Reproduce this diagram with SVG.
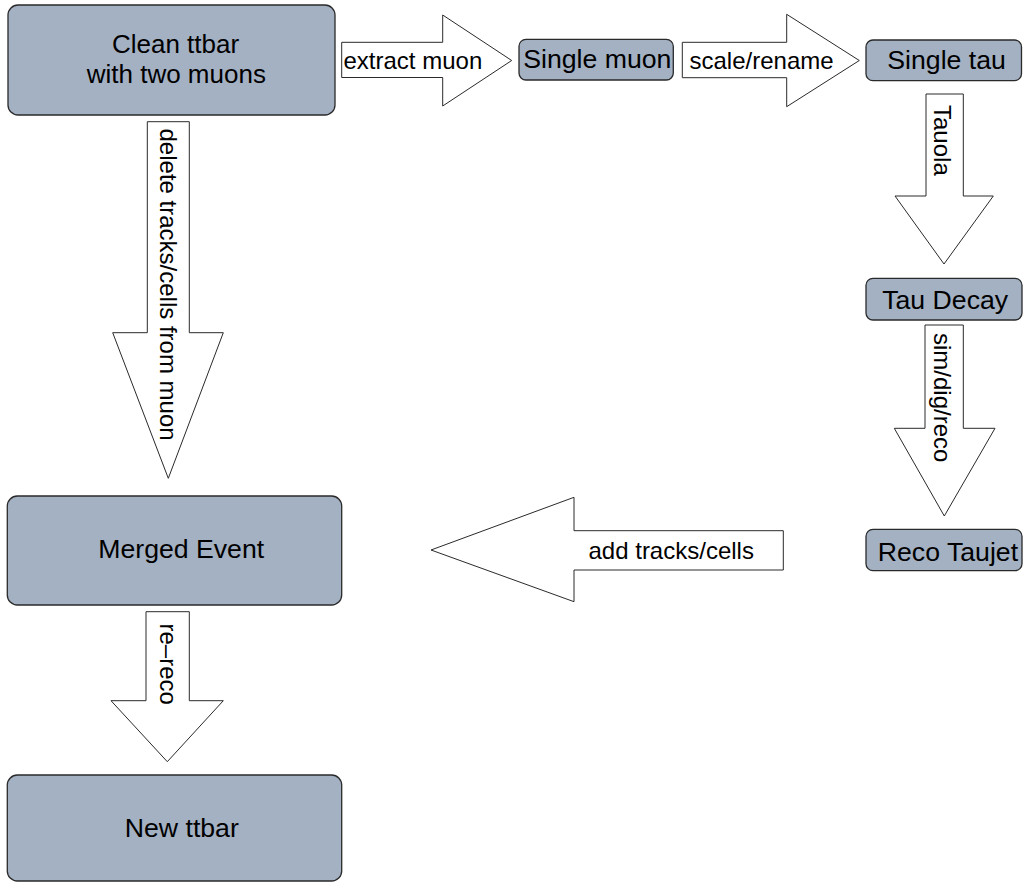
<svg xmlns="http://www.w3.org/2000/svg" width="1023" height="882" viewBox="0 0 1023 882">
  <style>
    .node { fill: #a3b1c3; stroke: #2a2a2a; stroke-width: 1.3; }
    .arrow { fill: #ffffff; stroke: #2a2a2a; stroke-width: 1; stroke-linejoin: miter; }
    .nlabel { font-family: "Liberation Sans", Arial, sans-serif; font-size: 26.67px; fill: #000; text-anchor: middle; }
    .alabel { font-family: "Liberation Sans", Arial, sans-serif; font-size: 24px; fill: #000; }
  </style>
  <rect width="1023" height="882" fill="#ffffff"/>

  <!-- block arrows between stages -->
  <g id="connectors">
    <g id="arrow-extract">
      <polygon class="arrow" points="341.7,42.3 442.7,42.3 442.7,15 511.7,60.5 442.7,106 442.7,77.5 341.7,77.5"/>
      <text class="alabel" x="343.5" y="68.5">extract muon</text>
    </g>
    <g id="arrow-scale">
      <polygon class="arrow" points="682.3,42.3 786.7,42.3 786.7,14.3 859.3,60.5 786.7,106.7 786.7,77.7 682.3,77.7"/>
      <text class="alabel" x="689.5" y="68.5">scale/rename</text>
    </g>
    <g id="arrow-tauola">
      <polygon class="arrow" points="926,94 963.3,94 963.3,196 993.3,196 944,264 895,196 926,196"/>
      <text class="alabel" transform="translate(933.5,105) rotate(90)">Tauola</text>
    </g>
    <g id="arrow-simdigreco">
      <polygon class="arrow" points="925,325 963.3,325 963.3,428.3 995,428.3 944.3,516 894.3,428.3 925,428.3"/>
      <text class="alabel" transform="translate(933.5,333) rotate(90)">sim/dig/reco</text>
    </g>
    <g id="arrow-add">
      <polygon class="arrow" points="783.3,530.7 574,530.7 574,497.3 431,550 574,601.7 574,570 783.3,570"/>
      <text class="alabel" x="588.5" y="558.5">add tracks/cells</text>
    </g>
    <g id="arrow-delete">
      <polygon class="arrow" points="147.3,121.7 189.3,121.7 189.3,332.7 223.3,332.7 168.3,478.3 112.7,332.7 147.3,332.7"/>
      <text class="alabel" transform="translate(159.5,128.5) rotate(90)">delete tracks/cells from muon</text>
    </g>
    <g id="arrow-rereco">
      <polygon class="arrow" points="146,611.7 189.3,611.7 189.3,700.7 223.3,700.7 167.3,761.7 111,700.7 146,700.7"/>
      <text class="alabel" transform="translate(159.5,623.5) rotate(90)">re–reco</text>
    </g>
  </g>

  <!-- stage boxes -->
  <g id="clean-ttbar">
    <rect class="node" x="8" y="5" width="327" height="110" rx="10" ry="10"/>
    <text class="nlabel" style="font-size:26px" x="175.5" y="52.8">Clean ttbar</text>
    <text class="nlabel" style="font-size:26px" x="176.3" y="83.2">with two muons</text>
  </g>
  <g id="single-muon">
    <rect class="node" x="519" y="39.3" width="154.3" height="40.7" rx="7" ry="7"/>
    <text class="nlabel" x="597.3" y="67.5">Single muon</text>
  </g>
  <g id="single-tau">
    <rect class="node" x="866" y="40" width="155.5" height="40.7" rx="7" ry="7"/>
    <text class="nlabel" x="946.6" y="69">Single tau</text>
  </g>
  <g id="tau-decay">
    <rect class="node" x="866" y="278.3" width="156" height="41.7" rx="7" ry="7"/>
    <text class="nlabel" x="945.2" y="308.5">Tau Decay</text>
  </g>
  <g id="reco-taujet">
    <rect class="node" x="866" y="529.3" width="156" height="41.4" rx="7" ry="7"/>
    <text class="nlabel" x="947.9" y="560.7">Reco Taujet</text>
  </g>
  <g id="merged-event">
    <rect class="node" x="7.3" y="496" width="334.4" height="109" rx="10" ry="10"/>
    <text class="nlabel" x="181.2" y="558.3">Merged Event</text>
  </g>
  <g id="new-ttbar">
    <rect class="node" x="7.3" y="775" width="334.4" height="106" rx="10" ry="10"/>
    <text class="nlabel" x="181.8" y="837">New ttbar</text>
  </g>
</svg>
